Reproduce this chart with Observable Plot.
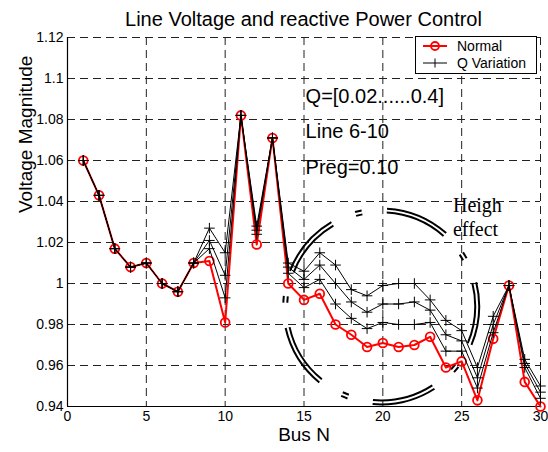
<!DOCTYPE html>
<html><head><meta charset="utf-8">
<script src="https://cdn.jsdelivr.net/npm/d3@7"></script>
<script src="https://cdn.jsdelivr.net/npm/@observablehq/plot@0.6"></script>
<style>
body{margin:0;background:#fff;font-family:"Liberation Sans",Arial,Helvetica,sans-serif;}
#wrap{position:relative;width:548px;height:452px;}
#title{position:absolute;left:67px;width:473px;top:8px;text-align:center;font-size:20px;line-height:22px;color:#000;white-space:nowrap;}
#legend{position:absolute;left:415px;top:36px;width:120px;height:36px;border:1px solid #000;background:#fff;}
#legend .row{position:absolute;left:0;height:16px;width:120px;}
#legend svg{position:absolute;left:6px;top:0;}
#legend span{position:absolute;left:41px;top:-1px;font-size:14px;line-height:18px;color:#000;white-space:nowrap;}
</style></head>
<body>
<div id="wrap">
  <div id="title">Line Voltage and reactive Power Control</div>
  <div id="legend">
    <div class="row" style="top:1px"><svg width="26" height="16"><line x1="1" y1="8" x2="25" y2="8" stroke="#f00" stroke-width="2"/><circle cx="13" cy="8" r="4" fill="none" stroke="#f00" stroke-width="1.8"/></svg><span>Normal</span></div>
    <div class="row" style="top:18px"><svg width="26" height="16"><line x1="1" y1="8" x2="25" y2="8" stroke="#000" stroke-width="1"/><line x1="13" y1="3.5" x2="13" y2="12.5" stroke="#000" stroke-width="1"/></svg><span>Q Variation</span></div>
  </div>
</div>
<script>
const bus = [1,2,3,4,5,6,7,8,9,10,11,12,13,14,15,16,17,18,19,20,21,22,23,24,25,26,27,28,29,30];
const normal = [1.060,1.043,1.017,1.008,1.010,1.000,0.996,1.010,1.011,0.981,1.082,1.019,1.071,1.000,0.992,0.995,0.980,0.975,0.969,0.971,0.969,0.970,0.974,0.959,0.962,0.943,0.973,0.999,0.952,0.940];
const qHigh = [1.060,1.043,1.017,1.008,1.010,1.000,0.996,1.010,1.027,1.015,1.082,1.028,1.071,1.010,1.006,1.015,1.009,0.997,0.994,0.999,1.000,1.000,0.992,0.982,0.977,0.959,0.984,0.999,0.963,0.950];
const qMid  = [1.060,1.043,1.017,1.008,1.010,1.000,0.996,1.010,1.021,1.004,1.082,1.026,1.071,1.008,1.002,1.009,1.000,0.991,0.986,0.990,0.990,0.991,0.987,0.975,0.972,0.954,0.980,0.999,0.961,0.947];
const qLow  = [1.060,1.043,1.017,1.008,1.010,1.000,0.996,1.010,1.017,0.993,1.082,1.024,1.071,1.005,0.998,1.002,0.990,0.983,0.978,0.981,0.980,0.980,0.981,0.967,0.967,0.949,0.976,0.999,0.959,0.944];
const xTicks = [0,5,10,15,20,25,30];
const yTicks = [0.94,0.96,0.98,1.00,1.02,1.04,1.06,1.08,1.10,1.12];
const noteText = ["Q=[0.02......0.4]","Line 6-10","Preg=0.10"];
const noteX = [15.1,15.1,15.1];
const noteY = [1.0912,1.0741,1.0566];
const effText = ["Heigh","effect"];
const effX = [24.45,24.45];
const effY = [1.038,1.0263];
const ringX = [19.9];
const ringY = [0.9888];

const normalData = bus.map((b,i)=>({bus:b, v:normal[i]}));
const qData = [qHigh,qMid,qLow].flatMap((arr,k)=>arr.map((v,i)=>({bus:bus[i], v, s:k})));
const ring = ringX.map((x,i)=>({x, y:ringY[i]}));
const notes = noteText.map((t,i)=>({t, x:noteX[i], y:noteY[i]}));
const effs = effText.map((t,i)=>({t, x:effX[i], y:effY[i]}));

function dash(r){ return [38,15,4,15].map(a=>(a*r*Math.PI/180).toFixed(3)).join(" "); }
function dashOff(r){ return (15*r*Math.PI/180).toFixed(3); }

const chart = Plot.plot({
  width:548, height:452,
  marginLeft:67, marginRight:8, marginTop:37, marginBottom:46,
  x:{domain:[0,30]},
  y:{domain:[0.94,1.12]},
  style:{fontFamily:"'Liberation Sans', Arial, sans-serif", color:"#000", background:"transparent", overflow:"visible"},
  marks:[
    Plot.gridX(xTicks,{stroke:"#222", strokeOpacity:1, strokeWidth:1, strokeDasharray:"8,5"}),
    Plot.gridY(yTicks,{stroke:"#222", strokeOpacity:1, strokeWidth:1, strokeDasharray:"8,5"}),
    Plot.ruleX([0],{stroke:"#000", strokeWidth:1.2}),
    Plot.ruleY([0.94],{stroke:"#000", strokeWidth:1.2}),
    Plot.axisX(xTicks,{tickSize:0, tickPadding:5, fontSize:14, label:null, tickFormat:d=>String(d)}),
    Plot.axisY(yTicks,{tickSize:0, tickPadding:4, fontSize:14, label:null, tickFormat:d=>String(+d.toFixed(2))}),
    Plot.text(["Bus N"],{frameAnchor:"bottom", dy:34, fontSize:19}),
    Plot.text(["Voltage Magnitude"],{frameAnchor:"left", rotate:-90, dx:-42, dy:-9, fontSize:19}),
    Plot.dot(ring,{x:"x", y:"y", r:98, fill:"none", stroke:"#000", strokeWidth:2, strokeDasharray:dash(98), strokeDashoffset:dashOff(98)}),
    Plot.dot(ring,{x:"x", y:"y", r:94, fill:"none", stroke:"#000", strokeWidth:2, strokeDasharray:dash(94), strokeDashoffset:dashOff(94)}),
    Plot.line(normalData,{x:"bus", y:"v", stroke:"#f00", strokeWidth:2}),
    Plot.dot(normalData,{x:"bus", y:"v", r:4.4, fill:"none", stroke:"#f00", strokeWidth:1.8}),
    Plot.line(qData,{x:"bus", y:"v", z:"s", stroke:"#000", strokeWidth:1}),
    Plot.dot(qData,{x:"bus", y:"v", symbol:"plus", r:3.5, stroke:"#000", strokeWidth:1}),
    Plot.text(notes,{x:"x", y:"y", text:"t", textAnchor:"start", fontSize:20, fill:"#000"}),
    Plot.text(effs,{x:"x", y:"y", text:"t", textAnchor:"start", fontSize:20, fontFamily:"'Liberation Serif', 'Times New Roman', serif", fill:"#000"})
  ]
});
document.getElementById("wrap").prepend(chart);
</script>
</body></html>
